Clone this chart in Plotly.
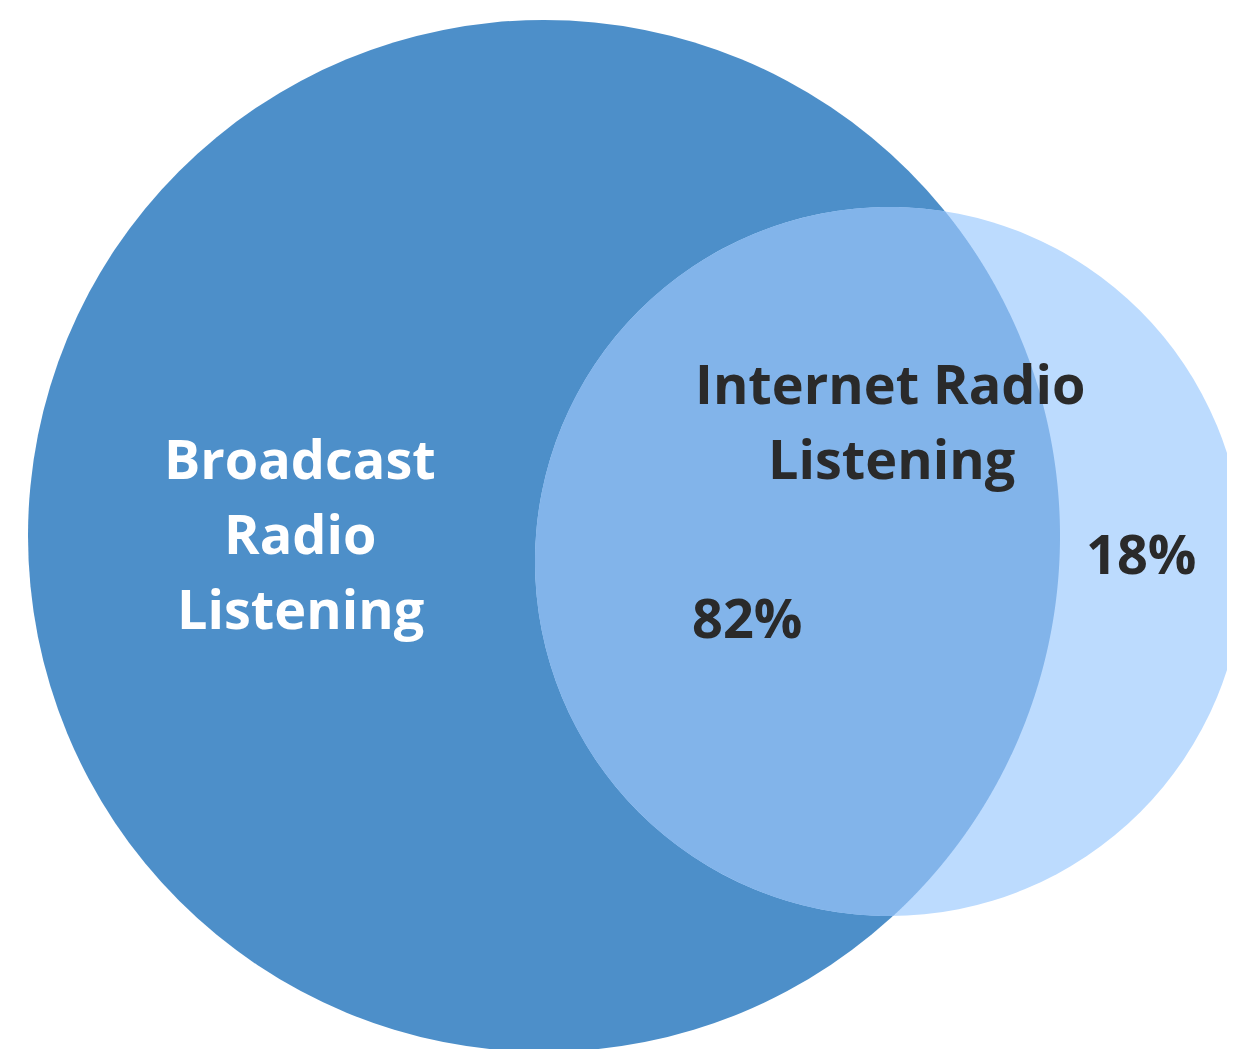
import numpy as np
import plotly.graph_objects as go

# ---- data ----
set_labels = ["Broadcast Radio Listening", "Internet Radio Listening"]
broadcast_lines = ["Broadcast", "Radio", "Listening"]
internet_lines = ["Internet Radio", "Listening"]
pct_labels = ["82%", "18%"]
pct_values = [82, 18]

W, H = 1235, 1049
OFF = 8  # page body margin compensation

# geometry (pixel space)
big_c, big_r = (544.0, 536.0), 516.0
small_c, small_r = (889.5, 561.5), 354.5

C_BIG = "#4D8FC9"
C_SMALL = "#BCDBFE"
C_LENS = "#82B4EA"
C_DARK = "#2A2A2A"

fig = go.Figure()

def circle_shape(c, r, color):
    return dict(type="circle", xref="x", yref="y",
                x0=c[0] - r, x1=c[0] + r, y0=c[1] - r, y1=c[1] + r,
                fillcolor=color, line=dict(width=0), layer="below")

# lens polygon: small circle points, projected onto big circle when outside it
t = np.linspace(0, 2 * np.pi, 2000, endpoint=False)
px = small_c[0] + small_r * np.cos(t)
py = small_c[1] + small_r * np.sin(t)
dx, dy = px - big_c[0], py - big_c[1]
d = np.hypot(dx, dy)
outside = d > big_r
px = np.where(outside, big_c[0] + dx / d * big_r, px)
py = np.where(outside, big_c[1] + dy / d * big_r, py)
path = "M " + " L ".join(f"{x:.2f},{y:.2f}" for x, y in zip(px, py)) + " Z"

shapes = [
    circle_shape(big_c, big_r, C_BIG),
    circle_shape(small_c, small_r, C_SMALL),
    dict(type="path", xref="x", yref="y", path=path, fillcolor=C_LENS,
         line=dict(width=0), layer="below"),
]

FONT = "Open Sans"
FS = 54

annotations = []
for line, (x, y) in zip(broadcast_lines, [(300, 458), (300, 533), (300, 608)]):
    annotations.append(dict(x=x, y=y, text=f"<b>{line}</b>", showarrow=False,
                            xref="x", yref="y", xanchor="center", yanchor="middle",
                            font=dict(family=FONT, size=FS, color="white")))
for line, (x, y) in zip(internet_lines, [(890, 383), (891, 458)]):
    annotations.append(dict(x=x, y=y, text=f"<b>{line}</b>", showarrow=False,
                            xref="x", yref="y", xanchor="center", yanchor="middle",
                            font=dict(family=FONT, size=FS, color=C_DARK)))
for lab, (x, y) in zip(pct_labels, [(747, 617), (1141, 553)]):
    annotations.append(dict(x=x, y=y, text=f"<b>{lab}</b>", showarrow=False,
                            xref="x", yref="y", xanchor="center", yanchor="middle",
                            font=dict(family=FONT, size=FS, color=C_DARK)))

fig.update_layout(
    width=W, height=H,
    margin=dict(l=0, r=0, t=0, b=0),
    paper_bgcolor="white", plot_bgcolor="white",
    xaxis=dict(range=[OFF, W + OFF], visible=False, fixedrange=True),
    yaxis=dict(range=[H + OFF, OFF], visible=False, fixedrange=True),
    shapes=shapes, annotations=annotations, showlegend=False,
)
fig.write_html("out.html")
